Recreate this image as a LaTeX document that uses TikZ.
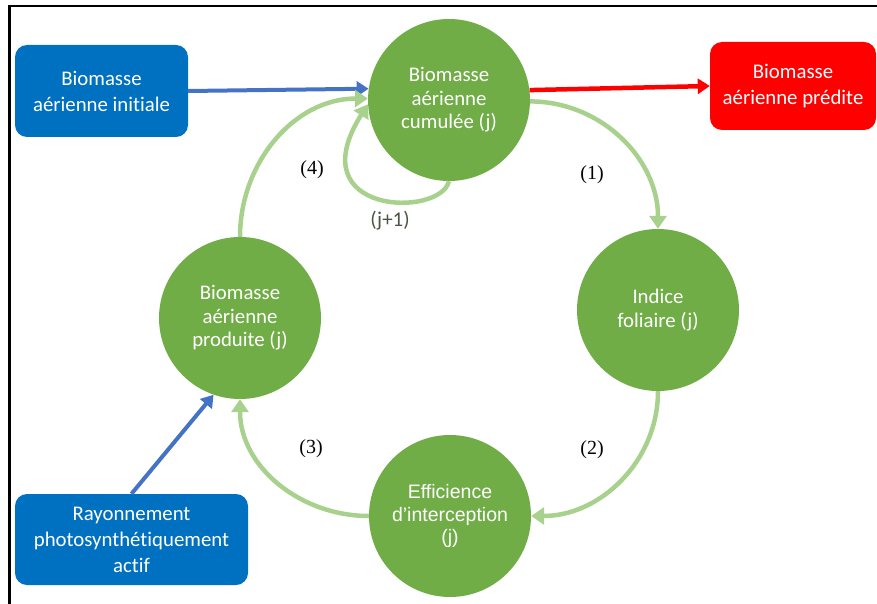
\documentclass[tikz,border=0pt]{standalone}
\usepackage{fontspec}
\setmainfont[Ligatures=NoCommon]{Carlito}
\newfontfamily\arialf{Liberation Sans}
\newfontfamily\timesf{Liberation Serif}
\usetikzlibrary{arrows.meta}
\definecolor{boxblue}{HTML}{0070C0}
\definecolor{arrblue}{HTML}{4472C4}
\definecolor{cgreen}{HTML}{70AD47}
\definecolor{lgreen}{HTML}{A9D18E}
\definecolor{jcol}{HTML}{4A5642}
\begin{document}
\begin{tikzpicture}[x=1pt,y=1pt,
  bluebox/.style={rectangle, rounded corners=12pt, fill=boxblue, text=white, align=center,
    inner sep=0pt, font=\fontsize{20.8}{26}\selectfont},
  redbox/.style={bluebox, fill=red},
  gcircle/.style={circle, fill=cgreen, text=white, align=center, inner sep=0pt,
    minimum size=162pt, font=\fontsize{20.8}{23.5}\selectfont},
  garrow/.style={draw=lgreen, line width=4.5pt, -{Triangle[length=13pt,width=17pt]}},
  barrow/.style={draw=arrblue, line width=4pt, -{Triangle[length=12pt,width=15pt]}},
  rarrow/.style={draw=red, line width=4.5pt, -{Triangle[length=12pt,width=15pt]}},
  lab/.style={font=\timesf\fontsize{20}{22}\selectfont, text=black}
]
\useasboundingbox (0,0) rectangle (877,-604);
\draw[line width=2.5pt] (9.5,-604) -- (9.5,-6) -- (877,-6);

\node[bluebox, minimum width=173pt, minimum height=92pt] (init) at (101.5,-91) {Biomasse\\aérienne initiale};
\node[redbox, minimum width=166pt, minimum height=88pt] (pred) at (793,-86) {Biomasse\\aérienne prédite};
\node[bluebox, minimum width=233pt, minimum height=91pt] (par) at (131.5,-539.5) {Rayonnement\\photosynthétiquement\\actif};

\node[gcircle] (cum) at (449,-100) {Biomasse\\aérienne\\cumulée (j)};
\node[gcircle] (lai) at (658,-310) {Indice\\foliaire (j)};
\node[gcircle, font=\arialf\fontsize{19.5}{22.5}\selectfont] (eff) at (450,-516) {Efficience\\d’interception\\(j)};
\node[gcircle] (prod) at (240,-318) {Biomasse\\aérienne\\produite (j)};

\draw[barrow] (init.east) -- (cum.172);
\draw[rarrow] (cum.7) -- (pred.west);
\draw[barrow] (par.north) -- (prod.251);

\draw[garrow] (cum.-1) to[out=0,in=90] (lai.north);
\draw[garrow] (lai.south) to[out=-90,in=0] (eff.east);
\draw[garrow] (eff.west) to[out=180,in=-90] (prod.south);
\draw[garrow] (prod.north) to[out=90,in=180] (cum.179);
\draw[garrow] (cum.south) .. controls (440,-218) and (298,-215) .. (cum.183);

\node[lab] (l1) at (592,-175) {(1)};
\node[lab] (l2) at (592,-450) {(2)};
\node[lab] (l3) at (311,-449) {(3)};
\node[lab] (l4) at (312,-170) {(4)};
\node[font=\fontsize{21}{23}\selectfont, text=jcol] (lj) at (390,-221) {(j+1)};
\end{tikzpicture}
\end{document}
